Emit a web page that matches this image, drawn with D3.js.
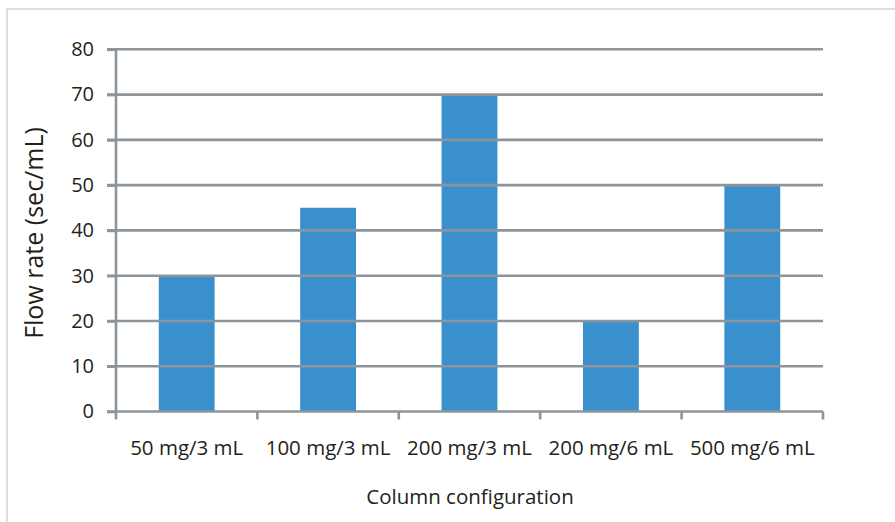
<!DOCTYPE html>
<html><head><meta charset="utf-8">
<script src="https://cdn.jsdelivr.net/npm/d3@7"></script>
<style>body{margin:0;background:#fff}svg{display:block}text{font-family:"Open Sans",sans-serif;fill:#231f20}</style>
</head><body><svg id="c" width="895" height="522"></svg>
<script>
const categories = ["50 mg/3 mL","100 mg/3 mL","200 mg/3 mL","200 mg/6 mL","500 mg/6 mL"];
const values = [30,45,70,20,50];
const yTicks = [0,10,20,30,40,50,60,70,80];
const yTitle = "Flow rate (sec/mL)";
const xTitle = "Column configuration";

const svg = d3.select("#c");
const L=116, R=823, T=49.3, B=411.5;
const gridColor="#8e949b";
svg.append("rect").attr("x",7).attr("y",9).attr("width",900).attr("height",530).attr("fill","none").attr("stroke","#c8c8c8").attr("stroke-width",1.2);

const x = d3.scaleBand().domain(categories).range([L,R]).padding(0);
const y = d3.scaleLinear().domain([0,80]).range([B,T]);
const bw = x.bandwidth()*0.395;

svg.append("g").selectAll("rect").data(values).join("rect")
  .attr("x",(d,i)=>x(categories[i])+x.bandwidth()/2-bw/2)
  .attr("y",d=>y(d)).attr("width",bw).attr("height",d=>y(0)-y(d))
  .attr("fill","#3a90cd");

svg.append("g").selectAll("line").data(yTicks.filter(d=>d>0)).join("line")
  .attr("x1",L-9).attr("x2",R).attr("y1",d=>y(d)).attr("y2",d=>y(d))
  .attr("stroke",gridColor).attr("stroke-width",2.6);

const ya = svg.append("g").attr("transform",`translate(${L},0)`)
  .call(d3.axisLeft(y).tickValues(yTicks).tickSize(9).tickPadding(13));
ya.attr("font-size",null).attr("font-family",null);
ya.select(".domain").attr("stroke",gridColor).attr("stroke-width",2.6).attr("d",`M0,${T}V${B}`);
ya.selectAll(".tick line").attr("stroke",gridColor).attr("stroke-width",2.6);
ya.selectAll(".tick text").style("font-size","20px").attr("fill","#231f20");

const xa = svg.append("g").attr("transform",`translate(0,${B})`)
  .call(d3.axisBottom(x).tickSize(0).tickPadding(29));
xa.attr("font-size",null).attr("font-family",null);
xa.select(".domain").remove();
xa.selectAll(".tick text").style("font-size","20.5px").attr("fill","#231f20");
xa.append("line").attr("x1",L-9).attr("x2",R).attr("y1",0).attr("y2",0).attr("stroke",gridColor).attr("stroke-width",2.6);
const bounds = [L, ...categories.map(c=>x(c)+x.bandwidth())];
xa.selectAll(".sep").data(bounds).join("line").attr("class","sep")
  .attr("x1",d=>d).attr("x2",d=>d).attr("y1",0).attr("y2",8)
  .attr("stroke",gridColor).attr("stroke-width",2.6);

svg.append("text").attr("transform","translate(43,233) rotate(-90)")
  .attr("text-anchor","middle").style("font-size","25px").text(yTitle);
svg.append("text").attr("x",470).attr("y",504).attr("text-anchor","middle")
  .style("font-size","20.5px").text(xTitle);
</script></body></html>
